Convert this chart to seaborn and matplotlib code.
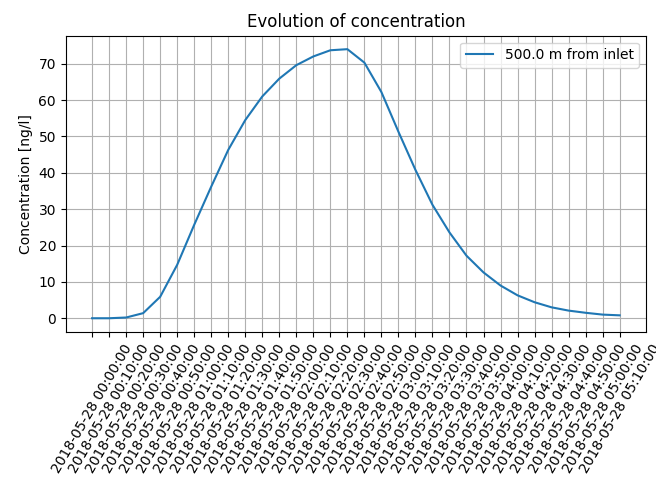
import matplotlib
matplotlib.use("Agg")
import matplotlib.pyplot as plt
import matplotlib.dates as mdates
import numpy as np
import pandas as pd
import seaborn as sns

times = pd.date_range("2018-05-28 00:00:00", periods=32, freq="10min")
concentration = [0.0, 0.0, 0.2, 1.4, 5.9, 14.7, 25.7, 36.2, 46.3, 54.5,
                 61.0, 65.9, 69.6, 72.0, 73.7, 74.0, 70.3, 62.2, 51.3, 40.8,
                 31.2, 23.6, 17.2, 12.6, 9.0, 6.3, 4.4, 3.0, 2.1, 1.5,
                 1.0, 0.8]
series_label = "500.0 m from inlet"

df = pd.DataFrame({"time": times, "conc": concentration})

plt.rcdefaults()
fig = plt.figure(figsize=(6.56, 4.86), dpi=100)
ax = fig.add_axes([0.1002, 0.3175, 0.9848 - 0.1002, 0.9265 - 0.3175])
sns.lineplot(data=df, x="time", y="conc", ax=ax, color="#1f77b4", label=series_label)
ax.set_xticks(times)
ax.xaxis.set_major_formatter(mdates.DateFormatter("%Y-%m-%d %H:%M:%S"))
plt.setp(ax.get_xticklabels(), rotation=60)
ax.grid(True)
ax.set_title("Evolution of concentration")
ax.set_ylabel("Concentration [ng/l]")
ax.set_xlabel("")
ax.legend(loc="upper right")
fig.savefig("out.png", dpi=100)
